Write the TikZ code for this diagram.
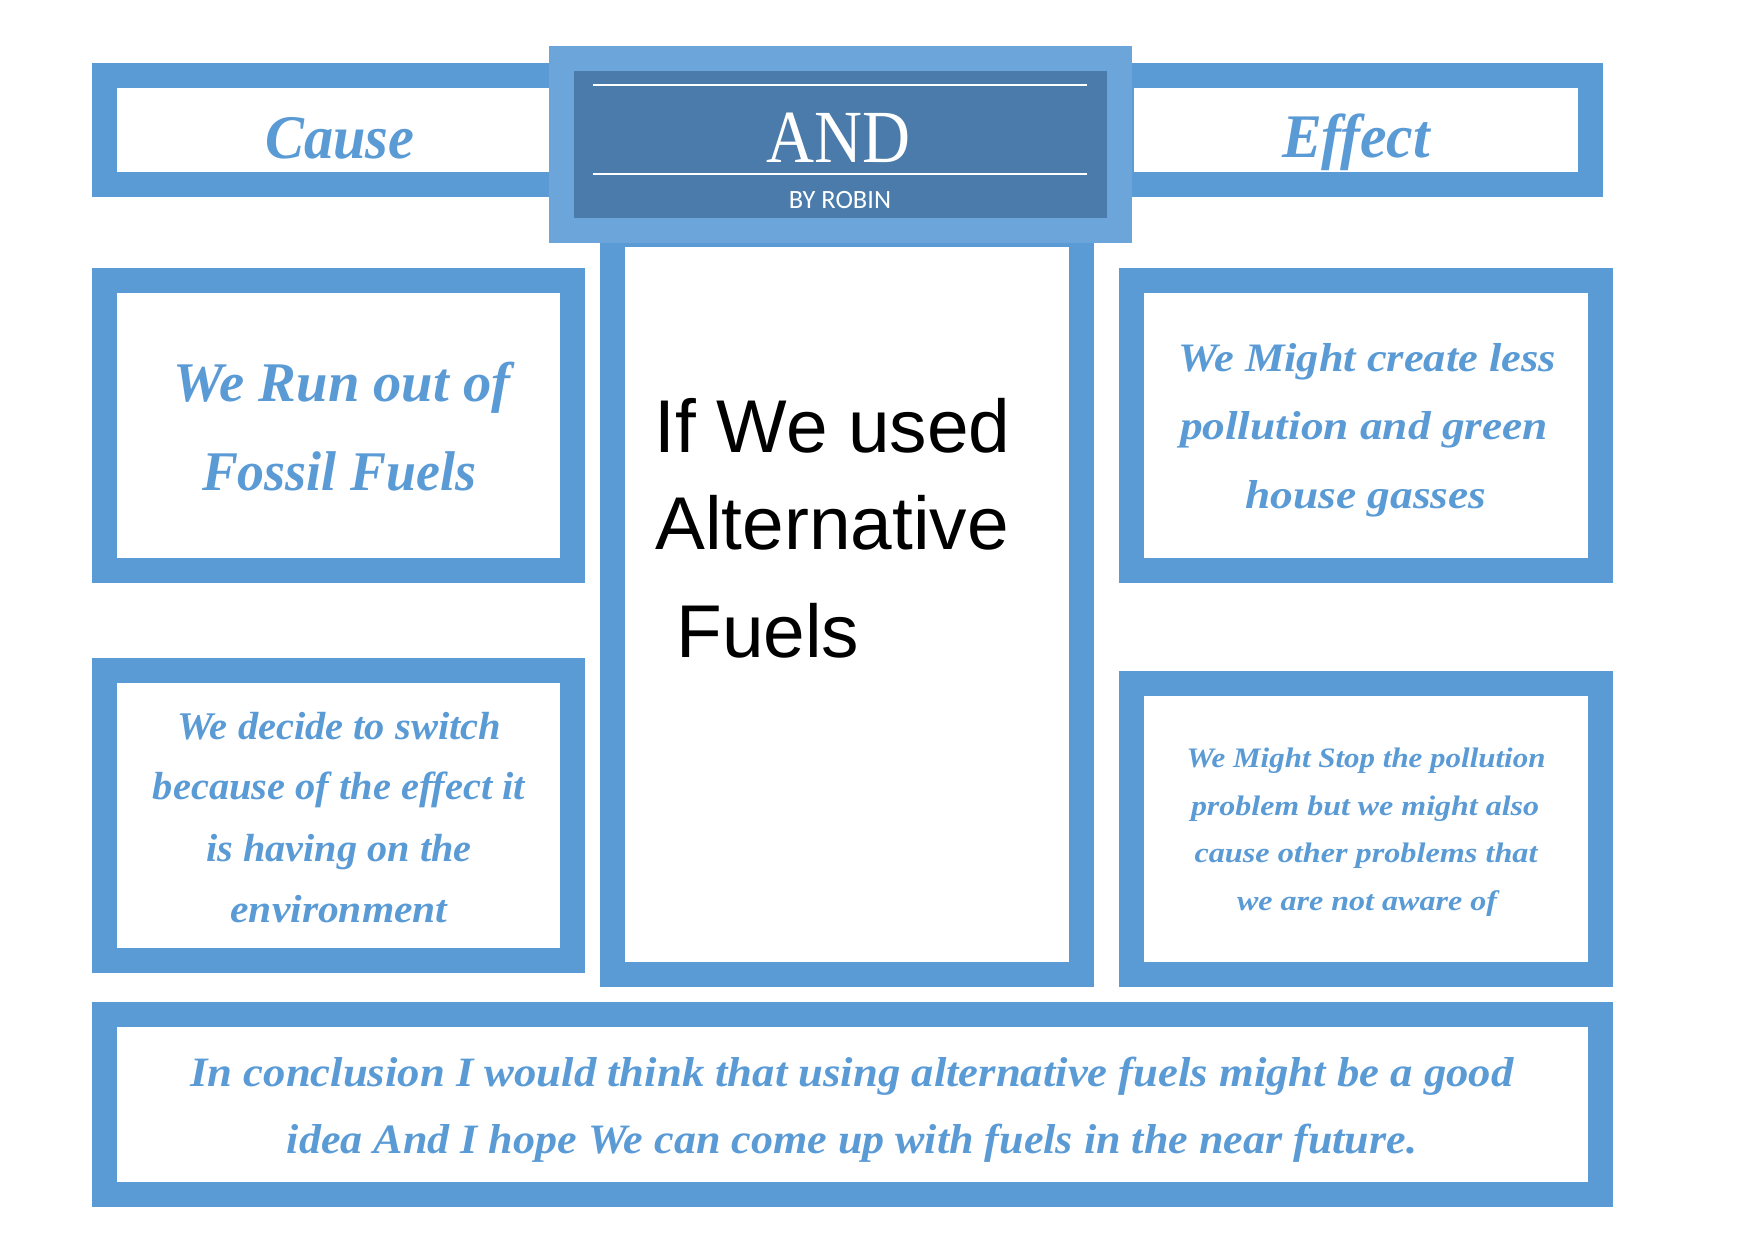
\documentclass[tikz,border=0pt]{standalone}
\usepackage{fontspec}
\usepackage{graphicx}
\setmainfont{Liberation Serif}
\newfontfamily\arialf{Liberation Sans}
\newfontfamily\carlf{Carlito}
\definecolor{accent}{HTML}{5B9BD5}
\definecolor{titlelight}{HTML}{6CA5DA}
\definecolor{titledark}{HTML}{4A7BAA}
\newdimen\pxu \pxu=0.5pt
\newcommand\fitw[2]{\resizebox{#1\pxu}{\height}{#2}}
\newcommand\btfont[1]{\fontsize{#1pt}{#1pt}\selectfont\bfseries\itshape}
\tikzset{
  frame/.style={rectangle, draw=accent, line width=12.5pt, fill=white, inner sep=0pt},
  titleframe/.style={rectangle, draw=titlelight, line width=12.5pt, fill=titledark, inner sep=0pt},
  bt/.style={text=accent, inner sep=0pt, anchor=base},
  ctext/.style={text=black, inner sep=0pt, anchor=base west, font={\arialf\fontsize{37.4pt}{40pt}\selectfont}},
  rule/.style={draw=white, line width=0.8pt}
}
\begin{document}
\begin{tikzpicture}[x=0.5pt, y=-0.5pt]
\useasboundingbox[fill=white] (0,0) rectangle (1754,1240);
% header side boxes
\node[frame, minimum width=471\pxu, minimum height=109\pxu] (cause) at (340,130) {};
\node[frame, minimum width=469\pxu, minimum height=109\pxu] (effect) at (1356,130) {};
% central column
\node[frame, minimum width=469\pxu, minimum height=740\pxu] (center) at (847,604.5) {};
% title
\node[titleframe, minimum width=558\pxu, minimum height=172\pxu] (title) at (840.5,144.5) {};
\coordinate (r1a) at (593,85); \coordinate (r1b) at (1087,85);
\coordinate (r2a) at (593,174); \coordinate (r2b) at (1087,174);
\draw[rule] (r1a) -- (r1b);
\draw[rule] (r2a) -- (r2b);
% side boxes
\node[frame, minimum width=468\pxu, minimum height=290\pxu] (left1) at (338.5,425.5) {};
\node[frame, minimum width=468\pxu, minimum height=290\pxu] (left2) at (338.5,815.5) {};
\node[frame, minimum width=469\pxu, minimum height=290\pxu] (right1) at (1366,425.5) {};
\node[frame, minimum width=469\pxu, minimum height=291\pxu] (right2) at (1366,829) {};
\node[frame, minimum width=1496\pxu, minimum height=180\pxu] (bottom) at (852.5,1104.5) {};
% texts
\node[bt, font={\btfont{31}}] (causet) at (340,159) {\fitw{149}{Cause}};
\node[bt, font={\btfont{31}}] (effectt) at (1356,158) {\fitw{148}{Effect}};
\node[bt, text=white, font={\fontsize{37.5pt}{40pt}\selectfont}] (andt) at (838.5,162.7) {\fitw{144}{AND}};
\node[bt, text=white, font={\carlf\fontsize{13.2pt}{14pt}\selectfont}] (byt) at (840,209) {BY ROBIN};
% left1
\node[bt, font={\btfont{28}}] (l1a) at (342,401.7) {\fitw{337}{We Run out of}};
\node[bt, font={\btfont{28}}] (l1b) at (339,490) {\fitw{274}{Fossil Fuels}};
% left2
\node[bt, font={\btfont{19.6}}] (l2a) at (339,739) {\fitw{324}{We decide to switch}};
\node[bt, font={\btfont{19.6}}] (l2b) at (339,799.3) {\fitw{372}{because of the effect it}};
\node[bt, font={\btfont{19.6}}] (l2c) at (339,861) {\fitw{265}{is having on the}};
\node[bt, font={\btfont{19.6}}] (l2d) at (339,922.7) {\fitw{217}{environment}};
% right1
\node[bt, font={\btfont{20.2}}] (r1ta) at (1367,371.7) {\fitw{378}{We Might create less}};
\node[bt, font={\btfont{20.2}}] (r1tb) at (1364,440) {\fitw{368}{pollution and green}};
\node[bt, font={\btfont{20.2}}] (r1tc) at (1366,508.3) {\fitw{241}{house gasses}};
% right2
\node[bt, font={\btfont{14.1}}] (r2ta) at (1366,767.3) {\fitw{359}{We Might Stop the pollution}};
\node[bt, font={\btfont{14.1}}] (r2tb) at (1365,815) {\fitw{348}{problem but we might also}};
\node[bt, font={\btfont{14.1}}] (r2tc) at (1366,862.3) {\fitw{343}{cause other problems that}};
\node[bt, font={\btfont{14.1}}] (r2td) at (1367,910.7) {\fitw{260}{we are not aware of}};
% bottom
\node[bt, font={\btfont{20.9}}] (ba) at (852,1086) {\fitw{1323}{In conclusion I would think that using alternative fuels might be a good}};
\node[bt, font={\btfont{20.9}}] (bb) at (852,1153.3) {\fitw{1130}{idea And I hope We can come up with fuels in the near future.}};
% center text
\node[ctext] (ca) at (654,452.7) {If We used};
\node[ctext] (cb) at (655,549.3) {Alternative};
\node[ctext] (cc) at (676,657.7) {Fuels};
\end{tikzpicture}
\end{document}
